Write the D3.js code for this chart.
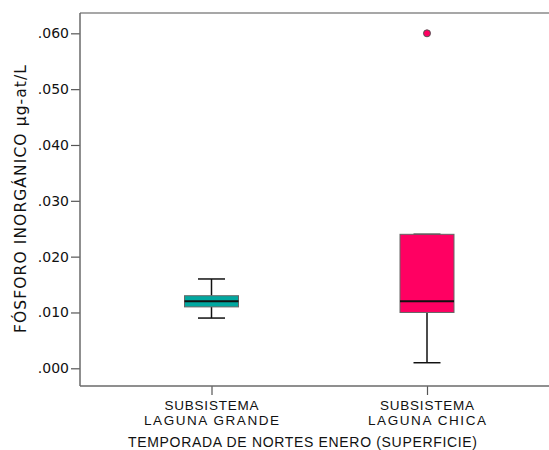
<!DOCTYPE html>
<html><head><meta charset="utf-8">
<script src="https://cdn.jsdelivr.net/npm/d3@7/dist/d3.min.js"></script>
<style>body{margin:0;background:#fff}svg{display:block}</style>
</head><body>
<svg id="c" width="549" height="450"></svg>
<script>
const categories = ["SUBSISTEMA LAGUNA GRANDE", "SUBSISTEMA LAGUNA CHICA"];
const whiskerLow = [0.009, 0.001];
const q1 = [0.011, 0.010];
const median = [0.012, 0.012];
const q3 = [0.013, 0.024];
const whiskerHigh = [0.016, 0.024];
const outliers = [[], [0.060]];
const yTicks = [0, 0.01, 0.02, 0.03, 0.04, 0.05, 0.06];
const fills = ["#00a8a0", "#ff0062"];

(function () {
const svg = d3.select("#c");
const mL = 80, mT = 13, mB = 386, mR = 549;
const y = d3.scaleLinear().domain([-0.00317, 0.06364]).range([mB, mT]);
const x = d3.scalePoint().domain(categories).range([211.5, 427]);
const boxW = 54, capW = 27;

svg.append("line").attr("x1", mL).attr("x2", mR).attr("y1", mT).attr("y2", mT)
  .attr("stroke", "#8a8a8a").attr("stroke-width", 1.5);

const ya = svg.append("g").attr("transform", `translate(${mL},0)`)
  .call(d3.axisLeft(y).tickValues(yTicks).tickSize(9).tickPadding(2)
    .tickFormat(d => d3.format(".3f")(d).replace(/^0/, "")));
ya.select(".domain").remove();
ya.selectAll(".tick line").attr("stroke", "#555").attr("stroke-width", 1.2);
ya.selectAll("text").attr("font-family", "DejaVu Sans").attr("font-size", 14).attr("fill", "#111");
svg.append("line").attr("x1", mL).attr("x2", mL).attr("y1", mT).attr("y2", mB)
  .attr("stroke", "#6a6a6a").attr("stroke-width", 1.5);

const xa = svg.append("g").attr("transform", `translate(0,${mB})`)
  .call(d3.axisBottom(x).tickSize(9).tickFormat(""));
xa.select(".domain").remove();
xa.selectAll(".tick line").attr("stroke", "#555").attr("stroke-width", 1.2);
svg.append("line").attr("x1", mL).attr("x2", mR).attr("y1", mB).attr("y2", mB)
  .attr("stroke", "#6a6a6a").attr("stroke-width", 1.5);

categories.forEach((c, i) => {
  const parts = c.split(" ");
  const l1 = parts[0], l2 = parts.slice(1).join(" ");
  const t = svg.append("text").attr("text-anchor", "middle")
    .attr("font-family", "Liberation Sans, Arial, sans-serif").attr("font-size", 13.5).attr("fill", "#111");
  t.append("tspan").attr("x", x(c)).attr("y", 410).text(l1)
    .attr("textLength", 94).attr("lengthAdjust", "spacing");
  t.append("tspan").attr("x", x(c)).attr("y", 425).text(l2)
    .attr("textLength", i === 0 ? 135 : 118).attr("lengthAdjust", "spacing");
});

svg.append("text").attr("x", 302.5).attr("y", 447).attr("text-anchor", "middle")
  .attr("font-family", "Liberation Sans, Arial, sans-serif").attr("font-size", 14).attr("fill", "#111")
  .attr("textLength", 349).attr("lengthAdjust", "spacing")
  .text("TEMPORADA DE NORTES ENERO (SUPERFICIE)");

svg.append("text").attr("transform", "translate(26,199) rotate(-90)").attr("text-anchor", "middle")
  .attr("font-family", "DejaVu Sans, Verdana, sans-serif").attr("font-size", 15.5).attr("fill", "#111")
  .attr("textLength", 268).attr("lengthAdjust", "spacing")
  .text("FÓSFORO INORGÁNICO µg-at/L");

categories.forEach((c, i) => {
  const cx = x(c);
  const g = svg.append("g");
  g.append("line").attr("x1", cx).attr("x2", cx).attr("y1", y(whiskerHigh[i])).attr("y2", y(q3[i]))
    .attr("stroke", "#111").attr("stroke-width", 1.5);
  g.append("line").attr("x1", cx).attr("x2", cx).attr("y1", y(q1[i])).attr("y2", y(whiskerLow[i]))
    .attr("stroke", "#111").attr("stroke-width", 1.5);
  [whiskerHigh[i], whiskerLow[i]].forEach(v => {
    g.append("line").attr("x1", cx - capW / 2).attr("x2", cx + capW / 2).attr("y1", y(v)).attr("y2", y(v))
      .attr("stroke", "#111").attr("stroke-width", 1.5);
  });
  g.append("rect").attr("x", cx - boxW / 2).attr("width", boxW)
    .attr("y", y(q3[i])).attr("height", y(q1[i]) - y(q3[i]))
    .attr("fill", fills[i]).attr("stroke", "#666").attr("stroke-width", 1);
  g.append("line").attr("x1", cx - boxW / 2).attr("x2", cx + boxW / 2).attr("y1", y(median[i])).attr("y2", y(median[i]))
    .attr("stroke", "#111").attr("stroke-width", 2);
  outliers[i].forEach(v => {
    g.append("circle").attr("cx", cx).attr("cy", y(v)).attr("r", 3.5)
      .attr("fill", fills[i]).attr("stroke", "#555").attr("stroke-width", 1);
  });
});
})();
</script>
</body></html>
